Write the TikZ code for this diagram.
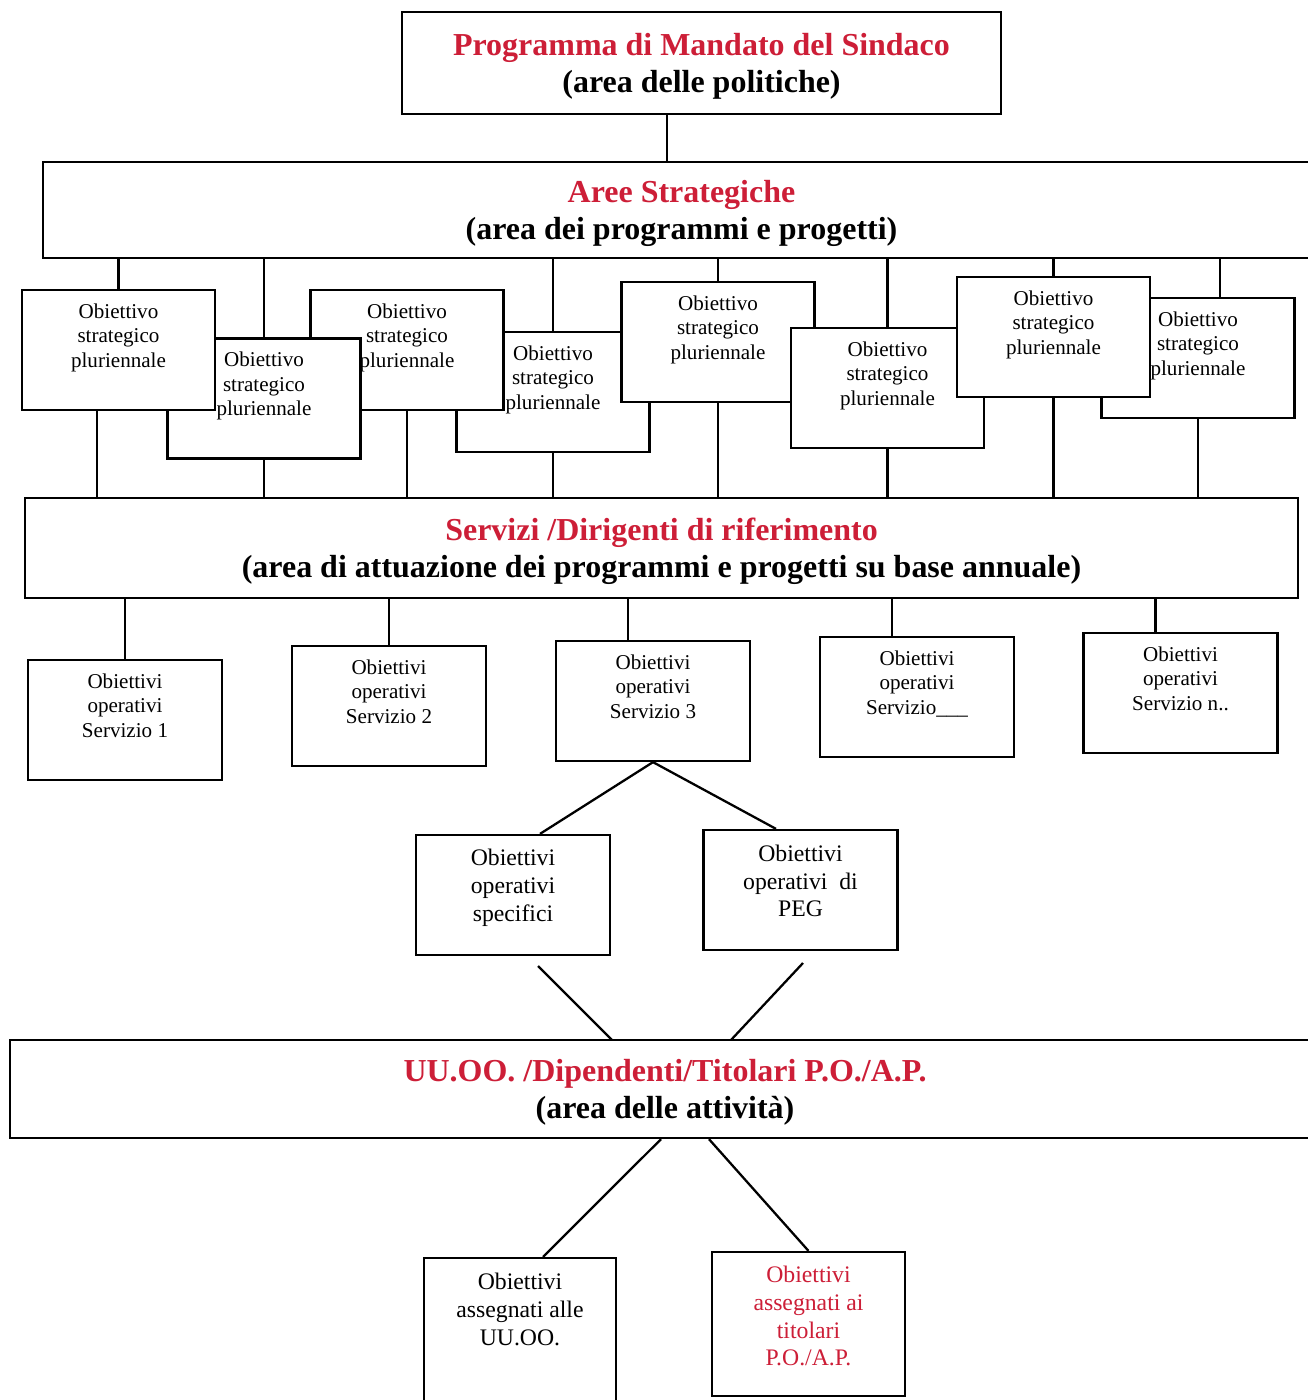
\documentclass[tikz,border=0pt]{standalone}
\usepackage{fontspec}
\setmainfont{Liberation Serif}
\usepackage{xcolor}
\definecolor{titlered}{RGB}{205,30,55}
\newcommand{\boxlines}[2]{\raisebox{#1}[\dimexpr\height+#1\relax][\dimexpr\depth+#1\relax]{\begin{tabular}{@{}c@{}}#2\end{tabular}}}
\newcommand{\stratxt}{\boxlines{7pt}{Obiettivo\\strategico\\pluriennale}}
\tikzset{
  band/.style={draw,line width=1.3pt,fill=white,font=\fontsize{18.2}{21}\selectfont\bfseries},
  strat/.style={draw,line width=1.3pt,fill=white,minimum width=3.86cm,minimum height=2.4cm,inner sep=0pt,font=\fontsize{12}{14}\selectfont},
  opbox/.style={strat,minimum width=3.88cm},
  subbox/.style={draw,line width=1.3pt,fill=white,minimum width=3.88cm,minimum height=2.4cm,inner sep=0pt,font=\fontsize{13.5}{15.7}\selectfont},
  conn/.style={line width=1.3pt}
}

\begin{document}
\begin{tikzpicture}[x=0.02cm,y=-0.02cm]
\useasboundingbox (0,0) rectangle (1308,1400);

% the four levels
\node[band,minimum width=11.98cm,minimum height=2.04cm] (mand) at (701.5,63)
  {\boxlines{-2.3pt}{{\color{titlered}Programma di Mandato del Sindaco}\\(area delle politiche)}};
\node[band,minimum width=25.54cm,minimum height=1.92cm] (aree) at (681.5,210)
  {\boxlines{-2.3pt}{{\color{titlered}Aree Strategiche}\\(area dei programmi e progetti)}};
\node[band,minimum width=25.46cm,minimum height=2cm] (serv) at (661.5,548)
  {\boxlines{-2.3pt}{{\color{titlered}Servizi /Dirigenti di riferimento}\\(area di attuazione dei programmi e progetti su base annuale)}};
\node[band,minimum width=26.2cm,minimum height=1.96cm] (uu) at (665,1089)
  {\boxlines{-2.3pt}{{\color{titlered}UU.OO. /Dipendenti/Titolari P.O./A.P.}\\(area delle attività)}};

\draw[conn] ([xshift=-0.69cm]mand.south) -- ([xshift=-0.69cm]mand.south |- aree.north);

% obiettivi strategici (drawn back to front)
\node[strat] (s4) at (553,392) {\stratxt};
\node[strat] (s3) at (407,350) {\stratxt};
\node[strat] (s2) at (264,398.5) {\stratxt};
\node[strat] (s1) at (118.5,350) {\stratxt};
\node[strat] (s5) at (718,342) {\stratxt};
\node[strat] (s6) at (887.5,388) {\stratxt};
\node[strat] (s8) at (1198,358) {\stratxt};
\node[strat] (s7) at (1053.5,337) {\stratxt};

\foreach \s in {s1,s2,s4,s5,s6,s7}
  \draw[conn] (\s.north) -- (\s.north |- aree.south);
\draw[conn] ([xshift=0.44cm]s8.north) -- ([xshift=0.44cm]s8.north |- aree.south);

\draw[conn] ([xshift=-0.43cm]s1.south) -- ([xshift=-0.43cm]s1.south |- serv.north);
\foreach \s in {s2,s3,s4,s5,s6,s7,s8}
  \draw[conn] (\s.south) -- (\s.south |- serv.north);

% obiettivi operativi
\node[opbox] (op1) at (125,720) {\boxlines{7pt}{Obiettivi\\operativi\\Servizio 1}};
\node[opbox] (op2) at (389,706) {\boxlines{7pt}{Obiettivi\\operativi\\Servizio 2}};
\node[opbox] (op3) at (653,701) {\boxlines{7pt}{Obiettivi\\operativi\\Servizio 3}};
\node[opbox] (op4) at (917,697) {\boxlines{7pt}{Obiettivi\\operativi\\Servizio\_\_\_}};
\node[opbox] (op5) at (1180.5,693) {\boxlines{7pt}{Obiettivi\\operativi\\Servizio n..}};

\foreach \s in {op1,op2}
  \draw[conn] (\s.north) -- (\s.north |- serv.south);
\foreach \s in {op3,op4,op5}
  \draw[conn] ([xshift=-0.5cm]\s.north) -- ([xshift=-0.5cm]\s.north |- serv.south);

% servizio 3
\node[subbox] (spec) at (513,895) {\boxlines{4pt}{Obiettivi\\operativi\\specifici}};
\node[subbox] (peg) at (800.5,890) {\boxlines{3.5pt}{Obiettivi\\operativi\ \ di\\PEG}};
\draw[conn] (op3.south) -- ([xshift=0.54cm]spec.north);
\draw[conn] (op3.south) -- ([xshift=-0.49cm]peg.north);

\coordinate (spec-out) at (538,966);
\coordinate (peg-out) at (803,963);
\coordinate (uu-l) at (612,1040);
\coordinate (uu-r) at (731,1040);
\draw[conn] (spec-out) -- (uu-l);
\draw[conn] (peg-out) -- (uu-r);

% attivita
\node[subbox,minimum width=3.84cm,minimum height=3.04cm] (lb) at (520,1334)
  {\boxlines{12.5pt}{Obiettivi\\assegnati alle\\UU.OO.}};
\node[subbox,minimum width=3.86cm,minimum height=2.88cm,text=titlered] (rb) at (808.5,1324)
  {\boxlines{3pt}{Obiettivi\\assegnati ai\\titolari\\P.O./A.P.}};
\draw[conn] ([xshift=-0.08cm]uu.south) -- ([xshift=0.46cm]lb.north);
\draw[conn] ([xshift=0.88cm]uu.south) -- (rb.north);
\end{tikzpicture}
\end{document}
